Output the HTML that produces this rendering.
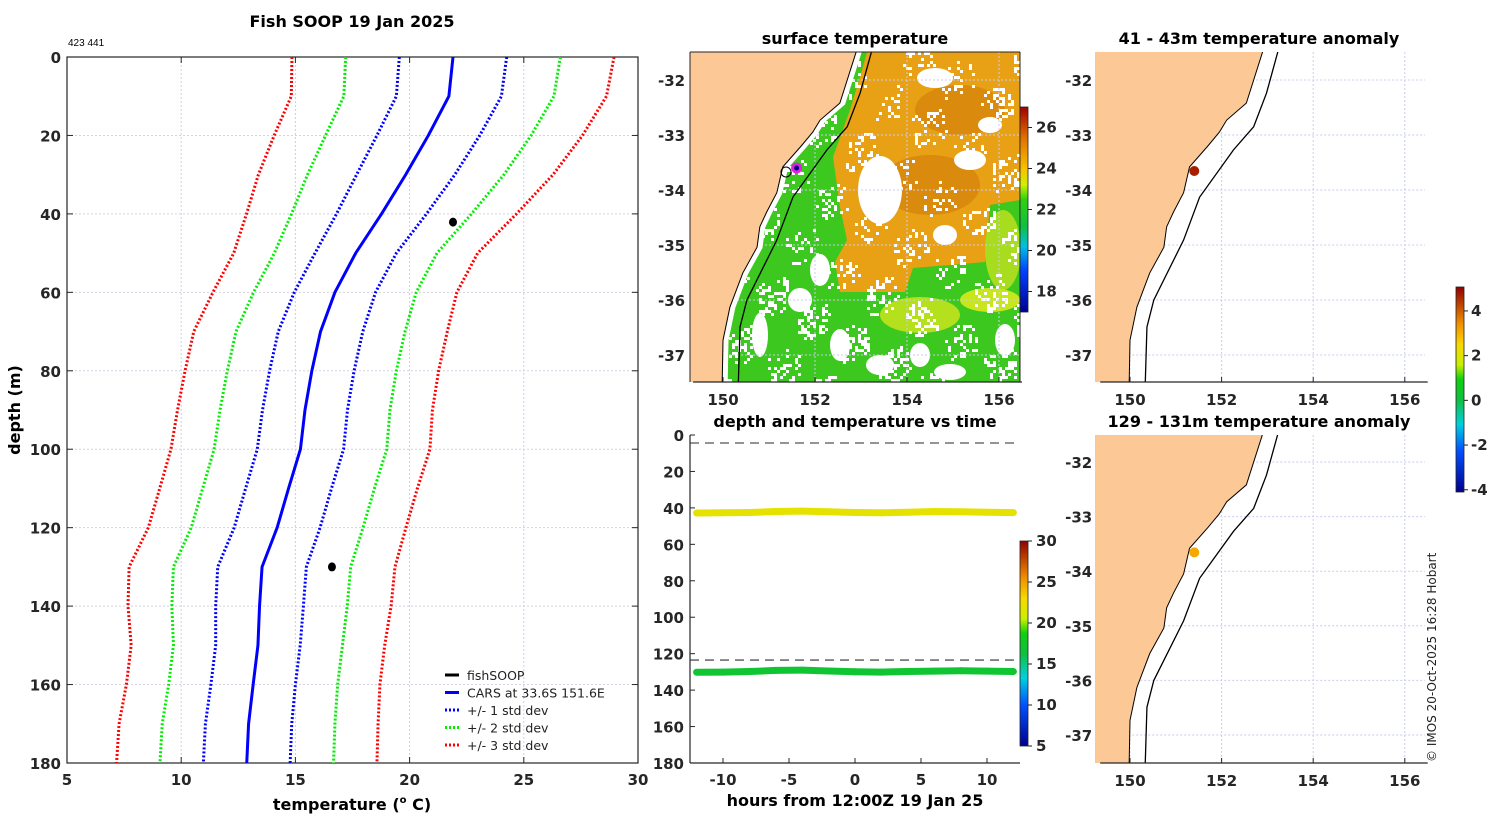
<!DOCTYPE html>
<html><head><meta charset="utf-8"><style>
html,body{margin:0;padding:0;background:#fff;}
svg{display:block;font-family:"DejaVu Sans","Liberation Sans",sans-serif;}
.t{font-weight:bold;fill:#000;}
.tk{font-weight:bold;fill:#262626;font-size:15px;}
</style></head><body>
<svg id="fig" width="1500" height="820" viewBox="0 0 1500 820" xmlns="http://www.w3.org/2000/svg">
<defs>
<linearGradient id="gTemp" x1="0" y1="1" x2="0" y2="0">
<stop offset="0" stop-color="#00008f"/><stop offset="0.2" stop-color="#0050ff"/><stop offset="0.33" stop-color="#00d0e0"/><stop offset="0.45" stop-color="#10c040"/><stop offset="0.55" stop-color="#10d010"/><stop offset="0.62" stop-color="#c8f000"/><stop offset="0.72" stop-color="#f8d800"/><stop offset="0.82" stop-color="#f09000"/><stop offset="1" stop-color="#900000"/>
</linearGradient>
<linearGradient id="gSst" x1="0" y1="1" x2="0" y2="0">
<stop offset="0" stop-color="#00008f"/><stop offset="0.2" stop-color="#0040ff"/><stop offset="0.32" stop-color="#00c0e0"/><stop offset="0.42" stop-color="#10c040"/><stop offset="0.55" stop-color="#30d010"/><stop offset="0.62" stop-color="#d0f000"/><stop offset="0.7" stop-color="#f8c000"/><stop offset="0.85" stop-color="#e07000"/><stop offset="1" stop-color="#a00000"/>
</linearGradient>
<clipPath id="cSst"><rect x="690" y="52" width="330" height="330"/></clipPath>
<clipPath id="cA1"><rect x="1095" y="52" width="330" height="330"/></clipPath>
<clipPath id="cA2"><rect x="1095" y="435" width="330" height="328"/></clipPath>
</defs>

<text class="t" x="352" y="27" font-size="16" text-anchor="middle">Fish SOOP 19 Jan 2025</text>
<text x="68" y="46" font-size="10" font-family="Liberation Sans, sans-serif">423 441</text>
<g id="main"></g>
<text class="t" x="20" y="410" font-size="16" text-anchor="middle" transform="rotate(-90 20 410)">depth (m)</text>
<text class="t" x="352" y="810" font-size="16" text-anchor="middle">temperature (<tspan font-size="10" dy="-7">o</tspan><tspan dy="7"> C)</tspan></text>

<text class="t" x="855" y="44" font-size="16" text-anchor="middle">surface temperature</text>
<g id="sst"></g>

<text class="t" x="855" y="427" font-size="16" text-anchor="middle">depth and temperature vs time</text>
<g id="dt"></g>
<text class="t" x="855" y="806" font-size="16" text-anchor="middle" fill="#262626">hours from 12:00Z 19 Jan 25</text>

<text class="t" x="1259" y="44" font-size="16" text-anchor="middle">41 - 43m temperature anomaly</text>
<g id="a1"></g>
<text class="t" x="1259" y="427" font-size="16" text-anchor="middle">129 - 131m temperature anomaly</text>
<g id="a2"></g>
<g id="acb"></g>
<text x="1436" y="762" font-size="12" transform="rotate(-90 1436 762)" fill="#222">© IMOS 20-Oct-2025 16:28 Hobart</text>
</svg>
<script>
// ---- profile data ----
const depths=[0,10,20,30,40,50,60,70,80,90,100,110,120,130,140,150,160,170,180];
const carsMean=[21.9,21.72,20.82,19.83,18.77,17.64,16.73,16.1,15.72,15.42,15.22,14.7,14.2,13.54,13.43,13.36,13.15,12.95,12.87];
const carsStd=[2.35,2.3,2.25,2.15,1.97,1.78,1.78,1.85,1.85,1.86,1.89,1.88,1.88,1.94,1.92,1.85,1.85,1.89,1.9];
const fishTemp=[21.9,16.6];
const fishDepth=[42.1,130];
const tempTicks=[5,10,15,20,25,30];
const depthTicks=[0,20,40,60,80,100,120,140,160,180];
// ---- depth-time data ----
const hours=[-12,-10,-8,-6,-4,-2,0,2,4,6,8,10,12];
const shallowDepth=[42.8,42.7,42.5,42.0,41.8,42.1,42.5,42.7,42.4,42.0,42.1,42.4,42.6];
const shallowTemp=[22,22,22,22,22,22,22,22,22,22,22,22,22];
const deepDepth=[130.2,130.1,129.8,129.2,129.0,129.5,129.9,130.1,129.8,129.6,129.4,129.6,129.8];
const deepTemp=[17,17,17,17,17,17,17,17,17,17,17,17,17];
const dashDepths=[4.4,123.5];
const hourTicks=[-10,-5,0,5,10];
const dtTempTicks=[5,10,15,20,25,30];
// ---- map data ----
const coastLon=[152.91,152.54,152.11,151.95,151.7,151.30,151.17,150.95,150.80,150.74,150.43,150.15,150.0,149.98];
const coastLat=[-31.45,-32.42,-32.73,-32.95,-33.2,-33.58,-34.05,-34.4,-34.67,-35.04,-35.51,-36.13,-36.73,-37.6];
const shelfLon=[153.24,152.98,152.70,152.26,151.52,151.17,150.52,150.37,150.33];
const shelfLat=[-31.45,-32.24,-32.85,-33.27,-34.13,-34.91,-36.0,-36.49,-37.6];
const lonTicks=[150,152,154,156];
const latTicks=[-32,-33,-34,-35,-36,-37];
const stationLon=[151.6], stationLat=[-33.6];
const anomaly41=[4.7], anomaly129=[3.1];
const sstTicks=[18,20,22,24,26];
const anomTicks=[-4,-2,0,2,4];

const NS="http://www.w3.org/2000/svg";
function mk(parent,tag,attrs){const e=document.createElementNS(NS,tag);for(const k in attrs)e.setAttribute(k,attrs[k]);parent.appendChild(e);return e;}
function txt(parent,x,y,s,anchor,cls,size){const e=mk(parent,'text',{x:x,y:y,'text-anchor':anchor,'class':cls||'tk'});if(size)e.setAttribute('font-size',size);e.textContent=s;return e;}
function jet(v,lo,hi){const stops=[[0,[0,0,143]],[0.2,[0,80,255]],[0.33,[0,208,224]],[0.45,[16,192,64]],[0.55,[16,208,16]],[0.62,[200,240,0]],[0.72,[248,216,0]],[0.82,[240,144,0]],[1,[144,0,0]]];let t=Math.max(0,Math.min(1,(v-lo)/(hi-lo)));for(let i=1;i<stops.length;i++){if(t<=stops[i][0]){const a=stops[i-1],b=stops[i],f=(t-a[0])/(b[0]-a[0]);return 'rgb('+a[1].map((c,j)=>Math.round(c+(b[1][j]-c)*f)).join(',')+')';}}return 'rgb(144,0,0)';}

// ===== main profile =====
(function(){
const g=document.getElementById('main');
const X0=67,X1=638,Y0=57,Y1=763;
const sx=t=>X0+(t-5)/25*(X1-X0), sy=d=>Y0+d/180*(Y1-Y0);
tempTicks.forEach(t=>{if(t>5&&t<30){const l=mk(g,'line',{x1:sx(t),x2:sx(t),y1:Y0,y2:Y1,stroke:'#c8cef0','stroke-dasharray':'2,2'});}});
depthTicks.forEach(d=>{if(d>0&&d<180){const l=mk(g,'line',{x1:X0,x2:X1,y1:sy(d),y2:sy(d),stroke:'#d8d0e0','stroke-dasharray':'2,2'});}});
const box=mk(g,'rect',{x:X0,y:Y0,width:X1-X0,height:Y1-Y0,fill:'none',stroke:'#262626','stroke-width':1.2});

tempTicks.forEach(t=>{mk(g,'line',{x1:sx(t),x2:sx(t),y1:Y0,y2:Y0+6,stroke:'#262626'});mk(g,'line',{x1:sx(t),x2:sx(t),y1:Y1,y2:Y1-6,stroke:'#262626'});const e=txt(g,sx(t),Y1+22,String(t),'middle');});
depthTicks.forEach(d=>{mk(g,'line',{x1:X0,x2:X0+6,y1:sy(d),y2:sy(d),stroke:'#262626'});mk(g,'line',{x1:X1,x2:X1-6,y1:sy(d),y2:sy(d),stroke:'#262626'});const e=txt(g,X0-6,sy(d)+6,String(d),'end');});
const series=[[0,'#0000ff',null,'cars-mean-line'],[1,'#0000ff','2,2','std1-line'],[2,'#00ee00','2,2','std2-line'],[3,'#ff0000','2,2','std3-line']];
series.forEach(([k,col,dash,name])=>{
 const signs=k===0?[1]:[-1,1];
 signs.forEach(s=>{
  const pts=depths.map((d,i)=>sx(carsMean[i]+s*k*carsStd[i])+','+sy(d)).join(' ');
  const p=mk(g,'polyline',{points:pts,fill:'none',stroke:col,'stroke-width':3});
  if(dash)p.setAttribute('stroke-dasharray',dash);
  
 });
});
fishTemp.forEach((t,i)=>{const c=mk(g,'ellipse',{cx:sx(t),cy:sy(fishDepth[i]),rx:4,ry:4.5,fill:'#000'});});
const lg=mk(g,'g',{});
const items=[['#000',null,'fishSOOP'],['#0000ff',null,'CARS at 33.6S 151.6E'],['#0000ff','2,2','+/- 1 std dev'],['#00ee00','2,2','+/- 2 std dev'],['#ff0000','2,2','+/- 3 std dev']];
items.forEach((it,i)=>{const y=675+i*17.5;const l=mk(lg,'line',{x1:445,x2:459,y1:y,y2:y,stroke:it[0],'stroke-width':3});if(it[1])l.setAttribute('stroke-dasharray',it[1]);const e=mk(lg,'text',{x:467,y:y+5,'font-size':12.5,fill:'#222'});e.textContent=it[2];});
})();

// ===== maps =====
function drawMap(g,clipId,px,py,y0,y1,isSst){
 const cg=mk(g,'g',{'clip-path':'url(#'+clipId+')'});
 if(isSst){
  const oc=mk(cg,'g',{});
  mk(oc,'rect',{x:690,y:52,width:330,height:330,fill:'#3cc81e'});
  mk(oc,'polygon',{points:'867,52 1020,52 1020,200 990,205 985,262 913,268 905,292 840,292 835,262 847,240 840,207 833,157 850,110 862,70',fill:'#e8a014'});
  mk(oc,'ellipse',{cx:930,cy:185,rx:50,ry:30,fill:'#da8a0c'});
  mk(oc,'ellipse',{cx:960,cy:110,rx:45,ry:25,fill:'#da8a0c'});
  mk(oc,'ellipse',{cx:1003,cy:250,rx:18,ry:40,fill:'#a8dc1e'});
  mk(oc,'ellipse',{cx:920,cy:315,rx:40,ry:18,fill:'#b4e01e'});
  mk(oc,'ellipse',{cx:990,cy:300,rx:30,ry:12,fill:'#c8e61e'});
  const whites=[[880,190,22,34],[970,160,16,10],[935,78,18,10],[990,125,12,8],[945,235,12,10],[820,270,10,16],[800,300,12,12],[760,335,8,22],[840,345,10,16],[880,365,14,10],[920,355,10,12],[1005,340,10,16],[950,372,16,8]];
  whites.forEach(w=>mk(oc,'ellipse',{cx:w[0],cy:w[1],rx:w[2],ry:w[3],fill:'#fff'}));
  // speckle texture (cloud gaps)
  let path='';
  for(let i=0;i<110;i++){for(let j=0;j<110;j++){const x=690+i*3,y=52+j*3;const h=Math.sin(i*12.9898+j*78.233)*43758.5453;const f=h-Math.floor(h);const dens=(y>290?0.35:0.22)+(x>990&&y<200?0.15:0);if(f<dens&&Math.sin(i*0.35+j*0.21)+Math.cos(j*0.29-i*0.17)>0.2)path+='M'+x+' '+y+'h3v3h-3z';}}
  mk(oc,'path',{d:path,fill:'#fff'});
 }
 lonTicks.forEach(l=>{const e=mk(cg,'line',{x1:px(l),x2:px(l),y1:y0,y2:y1,stroke:'#c8cef0','stroke-dasharray':'2,2'});});
 latTicks.forEach(l=>{const e=mk(cg,'line',{x1:px(149),x2:px(157),y1:py(l),y2:py(l),stroke:'#c8cef0','stroke-dasharray':'2,2'});});
 if(isSst){mk(cg,'polyline',{points:coastLon.map((l,i)=>(px(l)+3)+','+py(coastLat[i])).join(' '),fill:'none',stroke:'#fff','stroke-width':5});}
 const lpts=coastLon.map((l,i)=>px(l)+','+py(coastLat[i]));
 lpts.push(px(148)+','+py(-37.6));lpts.push(px(148)+','+py(-31.45));
 const land=mk(cg,'polygon',{points:lpts.join(' '),fill:'#fbc896',stroke:'#000','stroke-width':1});
 
 const sh=mk(cg,'polyline',{points:shelfLon.map((l,i)=>px(l)+','+py(shelfLat[i])).join(' '),fill:'none',stroke:'#000','stroke-width':1.3});
 
 mk(g,'line',{x1:px(149.35),x2:px(156.5),y1:y1,y2:y1,stroke:'#262626','stroke-width':1.2});
 lonTicks.forEach(l=>{mk(g,'line',{x1:px(l),x2:px(l),y1:y1,y2:y1-5,stroke:'#262626'});const e=txt(g,px(l),y1+23,String(l),'middle');});
 latTicks.forEach(l=>{const e=txt(g,px(149.35)-8,py(l)+6,String(l),'end');});
 return cg;
}
(function(){
 const g=document.getElementById('sst');
 const px=l=>723+(l-150)*46, py=a=>80+(-32-a)*55;
 drawMap(g,'cSst',px,py,52,382,true);
 mk(g,'line',{x1:690,x2:690,y1:52,y2:382,stroke:'#262626'});mk(g,'line',{x1:1020,x2:1020,y1:52,y2:382,stroke:'#262626'});mk(g,'line',{x1:690,x2:1020,y1:52,y2:52,stroke:'#262626'});
 stationLon.forEach((l,i)=>{const c=mk(g,'circle',{cx:px(l),cy:py(stationLat[i]),r:4,fill:'#000080',stroke:'#e020e0','stroke-width':3});});
 mk(g,'circle',{cx:786,cy:172,r:5,fill:'none',stroke:'#000','stroke-width':1});
 const cb=mk(g,'rect',{x:1020,y:107,width:8,height:205,fill:'url(#gSst)',stroke:'#222','stroke-width':0.8});
 
 const cy=v=>312-(v-17)/10*205;
 sstTicks.forEach(v=>{mk(g,'line',{x1:1028,x2:1032,y1:cy(v),y2:cy(v),stroke:'#222'});const e=txt(g,1036,cy(v)+5,String(v),'start','tk',13);});
})();
function anomMap(id,clip,y0,y1,ky,val,a0){
 const g=document.getElementById(id);
 const px=l=>1130+(l-150)*45.8, py=a=>a0+(-32-a)*ky;
 drawMap(g,clip,px,py,y0,y1,false);
 stationLon.forEach((l,i)=>{const c=mk(g,'circle',{cx:px(l)-9,cy:py(stationLat[i])+3,r:5,fill:jet(val[i],-4.1,5.07)});});
}
anomMap('a1','cA1',52,382,55,anomaly41,80);
anomMap('a2','cA2',435,763,54.6,anomaly129,462);
(function(){
 const g=document.getElementById('acb');
 mk(g,'rect',{x:1456,y:287,width:8,height:205,fill:'url(#gTemp)',stroke:'#222','stroke-width':0.8});
 const cy=v=>492-(v+4.1)/9.17*205;
 anomTicks.forEach(v=>{mk(g,'line',{x1:1464,x2:1468,y1:cy(v),y2:cy(v),stroke:'#222'});const e=txt(g,1471,cy(v)+5,String(v),'start','tk',13);});
})();

// ===== depth-time =====
(function(){
 const g=document.getElementById('dt');
 const X0=690,X1=1020,Y0=435,Y1=763;
 const sx=h=>723+(h+10)*13.2, sy=d=>Y0+d/180*(Y1-Y0);
 dashDepths.forEach(d=>{const l=mk(g,'line',{x1:X0,x2:X1,y1:sy(d),y2:sy(d),stroke:'#555','stroke-width':1.3,'stroke-dasharray':'9,6'});});
 [[shallowDepth,shallowTemp,'shallow-sensor-series'],[deepDepth,deepTemp,'deep-sensor-series']].forEach(([dd,tt,name])=>{
  for(let i=0;i<hours.length-1;i++){const s=mk(g,'line',{x1:sx(hours[i]),y1:sy(dd[i]),x2:sx(hours[i+1]),y2:sy(dd[i+1]),stroke:jet(tt[i],5,30),'stroke-width':7,'stroke-linecap':'round'});}
 });
 mk(g,'line',{x1:X0,x2:X0,y1:Y0,y2:Y1,stroke:'#262626','stroke-width':1.2});
 mk(g,'line',{x1:X0,x2:X1,y1:Y1,y2:Y1,stroke:'#262626','stroke-width':1.2});
 depthTicks.forEach(d=>{mk(g,'line',{x1:X0,x2:X0+5,y1:sy(d),y2:sy(d),stroke:'#262626'});const e=txt(g,X0-6,sy(d)+6,String(d),'end');});
 hourTicks.forEach(h=>{mk(g,'line',{x1:sx(h),x2:sx(h),y1:Y1,y2:Y1-5,stroke:'#262626'});const e=txt(g,sx(h),Y1+22,String(h),'middle');});
 const cb=mk(g,'rect',{x:1020,y:541,width:8,height:205,fill:'url(#gTemp)',stroke:'#222','stroke-width':0.8});
 
 const cy=v=>746-(v-5)/25*205;
 dtTempTicks.forEach(v=>{mk(g,'line',{x1:1028,x2:1032,y1:cy(v),y2:cy(v),stroke:'#222'});const e=txt(g,1036,cy(v)+5,String(v),'start','tk',13);});
})();
</script>
</body></html>
